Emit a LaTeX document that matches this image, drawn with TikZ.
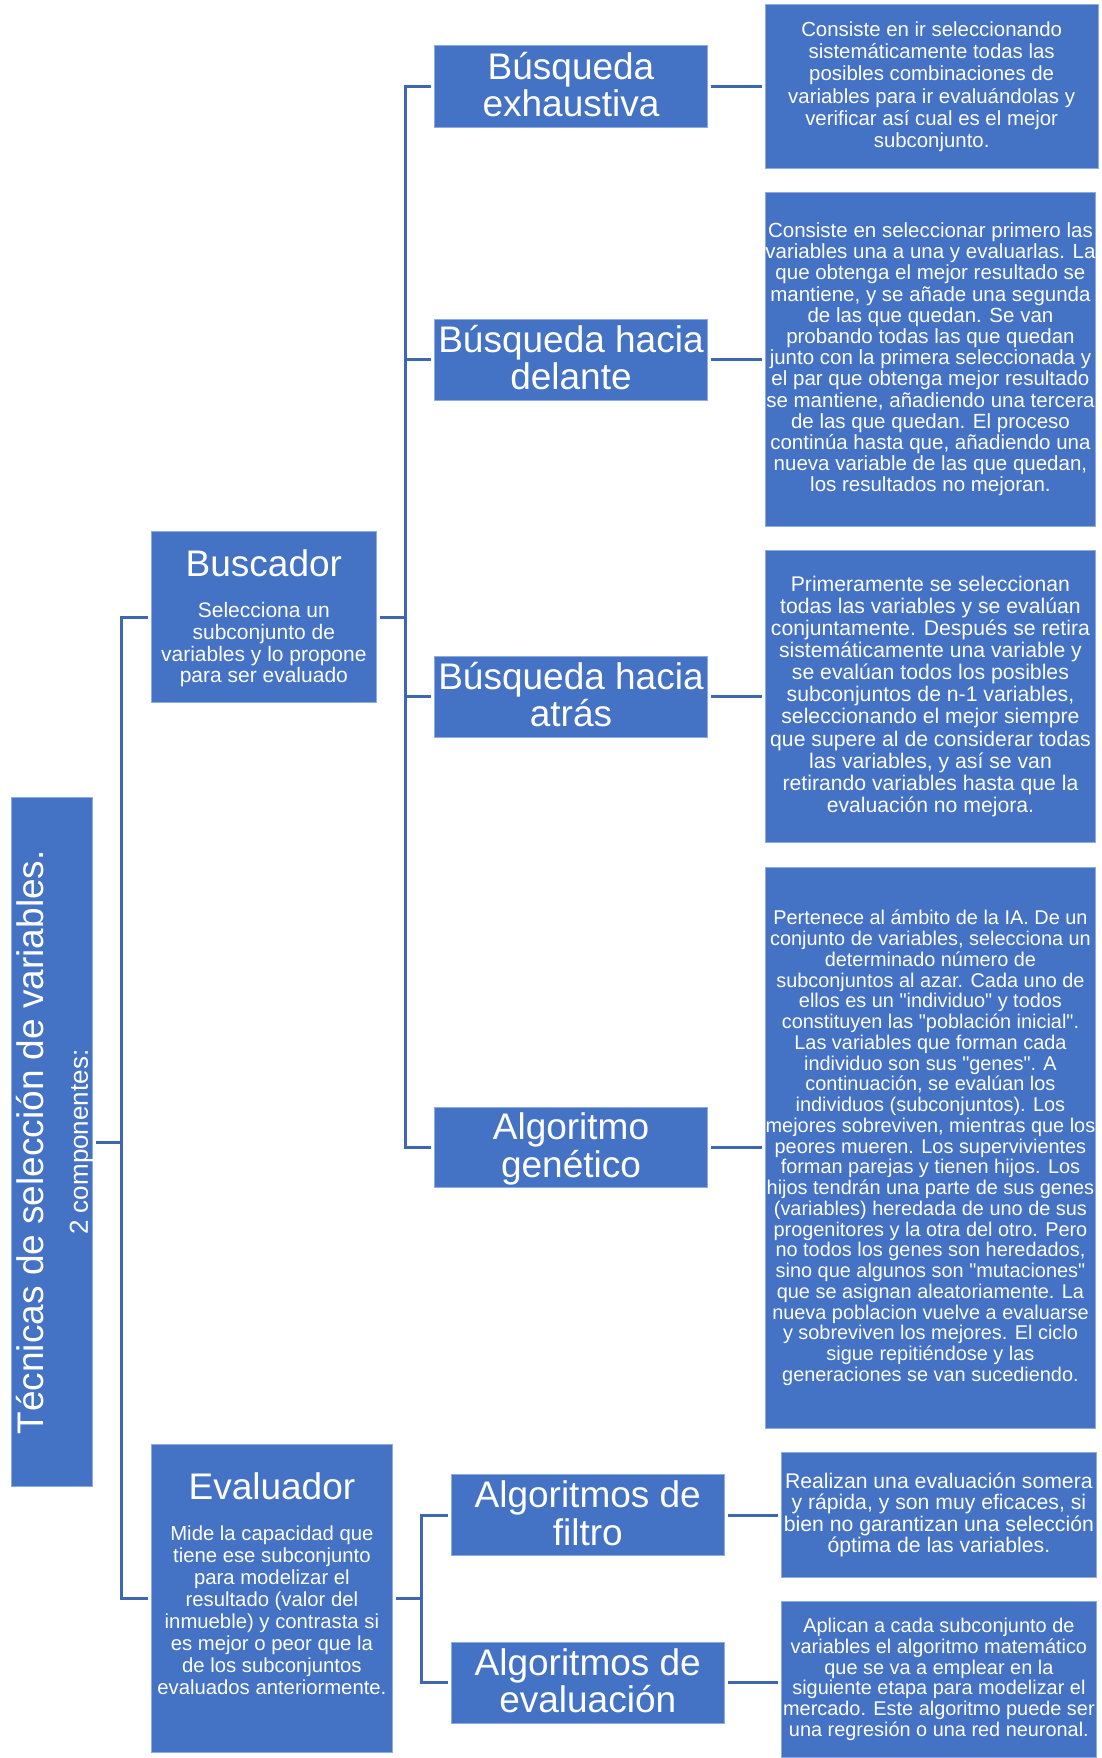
\documentclass[tikz,border=0pt]{standalone}
\usepackage{fontspec}
\setmainfont{Liberation Sans}[Ligatures=TeXOff]
\definecolor{boxblue}{HTML}{4472C4}
\definecolor{boxedge}{HTML}{8FAADC}
\definecolor{connblue}{HTML}{3E66B1}
\newcommand{\setfs}[2]{\fontsize{#1pt}{#2pt}\selectfont}
\newcommand{\hup}{\rule{0pt}{31pt}}
\newcommand{\hdn}{\rule[-8.3pt]{0pt}{8.3pt}}
\tikzset{
  box/.style={draw=boxedge, line width=1pt, fill=boxblue, text=white, inner sep=0pt, align=center},
  head/.style={box, font=\setfs{37}{37.7}},
  conn/.style={draw=connblue, line width=3pt, shorten <=3pt, shorten >=3pt},
  bigtitle/.style={text=white, inner sep=0pt, rotate=90, anchor=base},
  plain/.style={text=white, inner sep=0pt, align=center}
}
\begin{document}
\begin{tikzpicture}[x=1pt, y=-1pt]
\fill[white] (0,0) rectangle (1102,1758);
\useasboundingbox (0,0) rectangle (1102,1758);

% left column
\node[box, minimum width=81.2pt, minimum height=689pt] (title) at (52.2,1142.2) {};
\node[bigtitle, font=\setfs{37}{40}] (titleA) at (43,1142.2) {Técnicas de selección de variables.};
\node[bigtitle, font=\setfs{26}{28}] (titleB) at (87.8,1142.2) {2 componentes:};

% Buscador
\node[box, minimum width=225.7pt, minimum height=171pt] (busc) at (263.85,617.2) {};
\node[plain, anchor=base, font=\setfs{37}{37.7}] (buscH) at (263.85,576.7) {Buscador};
\node[plain, font=\setfs{21}{21.7}] (buscD) at (263.85,644.9) {Selecciona un\\subconjunto de\\variables y lo propone\\para ser evaluado};

% Evaluador
\node[box, minimum width=241.8pt, minimum height=307.8pt] (eval) at (271.9,1598.6) {};
\node[plain, anchor=base, font=\setfs{37}{37.7}] (evalH) at (271.9,1499) {Evaluador};
\node[plain, font=\setfs{20.3}{21.9}] (evalD) at (271.9,1610.1) {Mide la capacidad que\\tiene ese subconjunto\\para modelizar el\\resultado (valor del\\inmueble) y contrasta si\\es mejor o peor que la\\de los subconjuntos\\evaluados anteriormente.};

% middle column
\node[head, minimum width=272.8pt, minimum height=81.3pt] (bex) at (571,86.65) {\hup Búsqueda\\exhaustiva\hdn};
\node[head, minimum width=272.8pt, minimum height=81pt] (bde) at (571,359.5) {\hup Búsqueda hacia\\delante\hdn};
\node[head, minimum width=272.8pt, minimum height=80.5pt] (bat) at (571,696.75) {\hup Búsqueda hacia\\atrás\hdn};
\node[head, minimum width=272.8pt, minimum height=80.5pt] (gen) at (571,1147.25) {\hup Algoritmo\\genético\hdn};
\node[head, minimum width=272.5pt, minimum height=81pt] (fil) at (587.75,1515) {\hup Algoritmos de\\filtro\hdn};
\node[head, minimum width=272.5pt, minimum height=80.5pt] (aev) at (587.75,1682.75) {\hup Algoritmos de\\evaluación\hdn};

% descriptions
\node[box, font=\setfs{20.4}{22.2}, minimum width=332.7pt, minimum height=163.9pt] (d1) at (931.65,86.75) {Consiste en ir seleccionando\\sistemáticamente todas las\\posibles combinaciones de\\variables para ir evaluándolas y\\verificar así cual es el mejor\\subconjunto.};
\node[box, font=\setfs{20.5}{21.2}, minimum width=330.3pt, minimum height=333.2pt] (d2) at (930.45,359.4) {Consiste en seleccionar primero las\\variables una a una y evaluarlas. La\\que obtenga el mejor resultado se\\mantiene, y se añade una segunda\\de las que quedan. Se van\\probando todas las que quedan\\junto con la primera seleccionada y\\el par que obtenga mejor resultado\\se mantiene, añadiendo una tercera\\de las que quedan. El proceso\\continúa hasta que, añadiendo una\\nueva variable de las que quedan,\\los resultados no mejoran.};
\node[box, font=\setfs{21.2}{22.1}, minimum width=330.3pt, minimum height=292.2pt] (d3) at (930.45,696.4) {Primeramente se seleccionan\\todas las variables y se evalúan\\conjuntamente. Después se retira\\sistemáticamente una variable y\\se evalúan todos los posibles\\subconjuntos de n-1 variables,\\seleccionando el mejor siempre\\que supere al de considerar todas\\las variables, y así se van\\retirando variables hasta que la\\evaluación no mejora.};
\node[box, font=\setfs{19.9}{20.75}, minimum width=330.3pt, minimum height=561.4pt] (d4) at (930.45,1147.9) {Pertenece al ámbito de la IA. De un\\conjunto de variables, selecciona un\\determinado número de\\subconjuntos al azar. Cada uno de\\ellos es un "individuo" y todos\\constituyen las "población inicial".\\Las variables que forman cada\\individuo son sus "genes". A\\continuación, se evalúan los\\individuos (subconjuntos). Los\\mejores sobreviven, mientras que los\\peores mueren. Los supervivientes\\forman parejas y tienen hijos. Los\\hijos tendrán una parte de sus genes\\(variables) heredada de uno de sus\\progenitores y la otra del otro. Pero\\no todos los genes son heredados,\\sino que algunos son "mutaciones"\\que se asignan aleatoriamente. La\\nueva poblacion vuelve a evaluarse\\y sobreviven los mejores. El ciclo\\sigue repitiéndose y las\\generaciones se van sucediendo.};
\node[box, font=\setfs{21.2}{21.4}, minimum width=314.2pt, minimum height=124.6pt] (d5) at (938.9,1515) {Realizan una evaluación somera\\y rápida, y son muy eficaces, si\\bien no garantizan una selección\\óptima de las variables.};
\node[box, font=\setfs{19.9}{20.9}, minimum width=314.2pt, minimum height=155.3pt] (d6) at (938.9,1679.35) {Aplican a cada subconjunto de\\variables el algoritmo matemático\\que se va a emplear en la\\siguiente etapa para modelizar el\\mercado. Este algoritmo puede ser\\una regresión o una red neuronal.};

% junction points
\coordinate (jt) at (121,1142.2);
\coordinate (jb) at (405.5,617.2);
\coordinate (je) at (421.6,1598.6);

% connectors
\draw[conn, shorten >=0pt] (title.east) -- (jt);
\draw[conn, shorten <=0pt] (jt) |- (busc.west);
\draw[conn, shorten <=0pt] (jt) |- (eval.west);

\draw[conn, shorten >=0pt] (busc.east) -- (jb);
\draw[conn, shorten <=0pt] (jb) |- (bex.west);
\draw[conn, shorten <=0pt] (jb) |- (bde.west);
\draw[conn, shorten <=0pt] (jb) |- (bat.west);
\draw[conn, shorten <=0pt] (jb) |- (gen.west);

\draw[conn, shorten >=0pt] (eval.east) -- (je);
\draw[conn, shorten <=0pt] (je) |- (fil.west);
\draw[conn, shorten <=0pt] (je) |- (aev.west);

\draw[conn] (bex.east) -- (bex.east -| d1.west);
\draw[conn] (bde.east) -- (bde.east -| d2.west);
\draw[conn] (bat.east) -- (bat.east -| d3.west);
\draw[conn] (gen.east) -- (gen.east -| d4.west);
\draw[conn] (fil.east) -- (fil.east -| d5.west);
\draw[conn] (aev.east) -- (aev.east -| d6.west);
\end{tikzpicture}
\end{document}
